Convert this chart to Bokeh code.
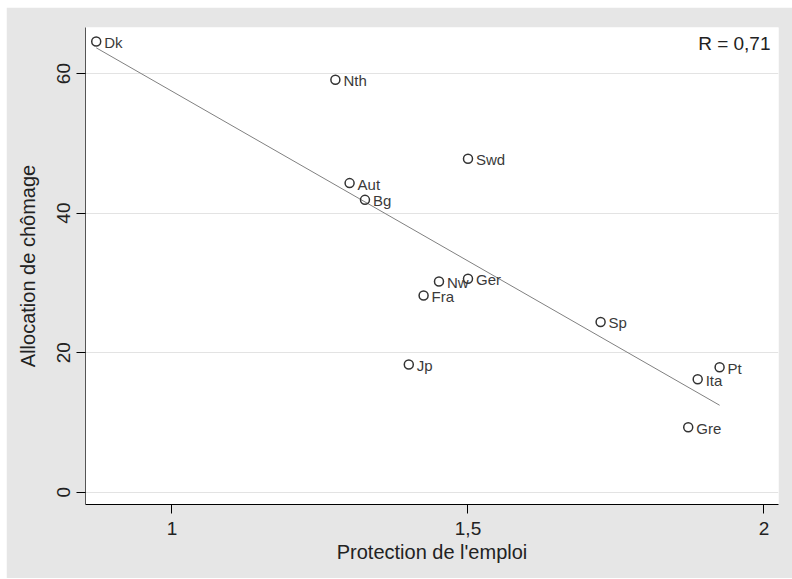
import numpy as np
from bokeh.plotting import figure
from bokeh.models import FixedTicker, Label, ColumnDataSource
from bokeh.core.properties import value
from bokeh.embed import file_html
from bokeh.resources import INLINE

# Data
countries = ["Dk", "Nth", "Swd", "Aut", "Bg", "Nw", "Ger", "Fra", "Jp", "Sp", "Pt", "Ita", "Gre"]
protection = [0.872, 1.276, 1.500, 1.300, 1.326, 1.451, 1.500, 1.425, 1.400, 1.724, 1.925, 1.888, 1.872]
allocation = [64.6, 59.1, 47.8, 44.3, 41.9, 30.2, 30.6, 28.2, 18.3, 24.4, 17.9, 16.2, 9.3]

x_ticks = [1, 1.5, 2]
x_tick_labels = ["1", "1,5", "2"]
y_ticks = [0, 20, 40, 60]
r_text = "R = 0,71"

FONT = "Liberation Sans"

# Least-squares fit line across the data range
slope, intercept = np.polyfit(protection, allocation, 1)
fit_x = [min(protection), max(protection)]
fit_y = [slope * v + intercept for v in fit_x]

p = figure(width=786, height=571, output_backend="svg", toolbar_location=None,
           x_range=(0.8539, 2.0245), y_range=(-1.76, 66.6),
           background_fill_color="white", border_fill_color="#e6e6e6",
           outline_line_color=None,
           min_border_left=79, min_border_right=14, min_border_top=20, min_border_bottom=74)
p.margin = (7, 0, 0, 6)

# Grid
p.xgrid.visible = False
p.ygrid.ticker = FixedTicker(ticks=y_ticks)
p.ygrid.grid_line_color = "#e3e3e3"
p.ygrid.grid_line_width = 1

# X axis
p.xaxis.ticker = FixedTicker(ticks=x_ticks)
p.xaxis.major_label_overrides = dict(zip(x_ticks, x_tick_labels))
p.xaxis.axis_label = "Protection de l'emploi"
p.xaxis.axis_line_color = "black"
p.xaxis.major_tick_line_color = "black"
p.xaxis.major_tick_out = 9
p.xaxis.major_tick_in = 0
p.xaxis.minor_tick_line_color = None
p.xaxis.major_label_standoff = 8
p.xaxis.axis_label_standoff = 3

# Y axis
p.yaxis.ticker = FixedTicker(ticks=y_ticks)
p.yaxis.axis_label = "Allocation de chômage"
p.yaxis.axis_line_color = "#555555"
p.yaxis.major_tick_line_color = "black"
p.yaxis.major_tick_out = 9
p.yaxis.major_tick_in = 0
p.yaxis.minor_tick_line_color = None
p.yaxis.major_label_orientation = "vertical"
p.yaxis.major_label_standoff = 6
p.yaxis.axis_label_standoff = 16

for ax in (p.xaxis[0], p.yaxis[0]):
    ax.major_label_text_font = FONT
    ax.major_label_text_font_size = "19px"
    ax.major_label_text_color = "#222222"
    ax.axis_label_text_font = FONT
    ax.axis_label_text_font_size = "20px"
    ax.axis_label_text_font_style = "normal"
    ax.axis_label_text_color = "#222222"

src = ColumnDataSource(dict(x=protection, y=allocation, name=countries))

# Fit line
p.line(fit_x, fit_y, line_color="#808080", line_width=1)

# Points
p.scatter("x", "y", source=src, marker="circle", size=9,
          fill_color=None, line_color="#333333", line_width=1.5)

# Point labels
p.text("x", "y", text="name", source=src, x_offset=8, y_offset=1,
       text_baseline="middle", text_align="left",
       text_font=value(FONT), text_font_size="15px", text_color="#3a3a3a")

# Correlation annotation
p.add_layout(Label(x=2.011, y=64.3, text=r_text, text_align="right",
                   text_baseline="middle", text_font=FONT,
                   text_font_size="19px", text_color="#222222"))

open("out.html", "w").write(file_html(p, INLINE))
